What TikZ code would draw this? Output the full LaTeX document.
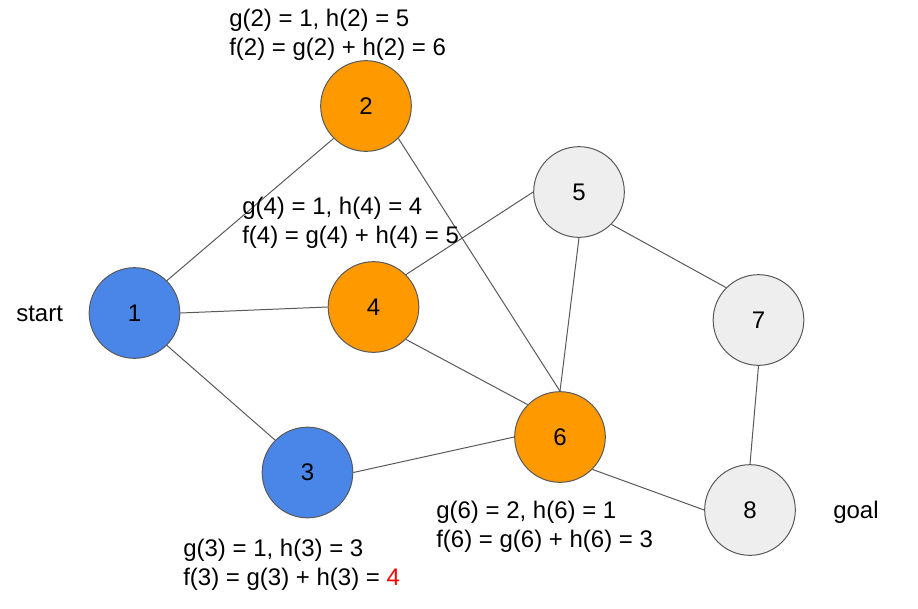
\documentclass[tikz,border=0pt]{standalone}
\usepackage{fontspec}
\setmainfont{Liberation Sans}
\definecolor{nblue}{HTML}{4A86E8}
\definecolor{norange}{HTML}{FF9900}
\definecolor{ngray}{HTML}{EEEEEE}
\definecolor{edgec}{HTML}{595959}
\definecolor{txtred}{HTML}{FF0000}
\begin{document}
\begin{tikzpicture}[x=0.75pt,y=-0.75pt,
  vertex/.style={circle,draw=edgec,line width=0.75pt,minimum size=68pt,inner sep=0pt,font=\fontsize{18pt}{22pt}\selectfont},
  bluev/.style={vertex,fill=nblue},
  orangev/.style={vertex,fill=norange},
  grayv/.style={vertex,fill=ngray},
  lbl/.style={anchor=base west,inner sep=0pt,font=\fontsize{18pt}{22pt}\selectfont},
  edge/.style={draw=edgec,line width=0.75pt}]
\useasboundingbox (0,0) rectangle (918,608);
\node[bluev] (n1) at (134.5,313) {1};
\node[orangev] (n2) at (366,106) {2};
\node[bluev] (n3) at (307.5,472.5) {3};
\node[orangev] (n4) at (373.5,307) {4};
\node[grayv] (n5) at (579,192) {5};
\node[orangev] (n6) at (560,437) {6};
\node[grayv] (n7) at (758.5,320) {7};
\node[grayv] (n8) at (750,510) {8};
\draw[edge] (n1.north east) -- (n2.south west);
\draw[edge] (n1.east) -- (n4.west);
\draw[edge] (n1.south east) -- (n3.north west);
\draw[edge] (n2.south east) -- (n6.north);
\draw[edge] (n4.north east) -- (n5.west);
\draw[edge] (n4.south east) -- (n6.north west);
\draw[edge] (n3.east) -- (n6.west);
\draw[edge] (n5.south) -- (n6.north);
\draw[edge] (n5.south east) -- (n7.north west);
\draw[edge] (n7.south) -- (n8.north);
\draw[edge] (n6.south east) -- (n8.west);
\node[lbl] (start) at (16,321) {start};
\node[lbl] (goal) at (833,518) {goal};
\node[lbl] (l2a) at (229,26) {g(2) = 1, h(2) = 5};
\node[lbl] (l2b) at (229,55) {f(2) = g(2) + h(2) = 6};
\node[lbl] (l4a) at (242,214) {g(4) = 1, h(4) = 4};
\node[lbl] (l4b) at (242,243) {f(4) = g(4) + h(4) = 5};
\node[lbl] (l6a) at (436,518) {g(6) = 2, h(6) = 1};
\node[lbl] (l6b) at (436,547) {f(6) = g(6) + h(6) = 3};
\node[lbl] (l3a) at (183,556) {g(3) = 1, h(3) = 3};
\node[lbl] (l3b) at (183,585) {f(3) = g(3) + h(3) = \textcolor{txtred}{4}};
\end{tikzpicture}
\end{document}
